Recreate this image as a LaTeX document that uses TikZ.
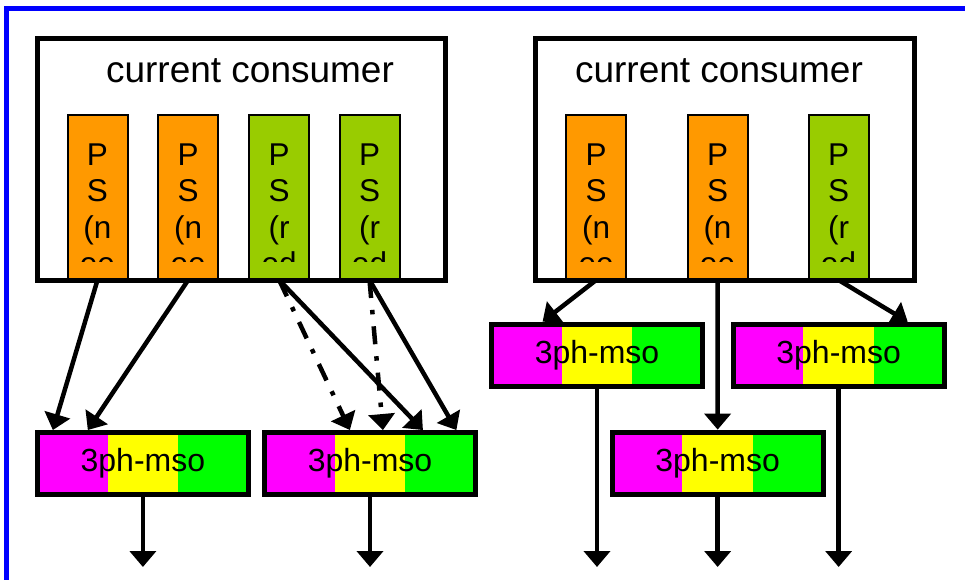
\documentclass[tikz,border=0pt]{standalone}
\usepackage{fontspec}
\setmainfont{Liberation Sans}
\usetikzlibrary{arrows.meta,calc}
\definecolor{psorange}{HTML}{FF9900}
\definecolor{psgreen}{HTML}{99CC00}
\definecolor{msomag}{HTML}{FF00FF}
\definecolor{msoyel}{HTML}{FFFF00}
\definecolor{msogrn}{HTML}{00FF00}
\definecolor{framblue}{HTML}{0000FF}
\tikzset{
  consumer/.style={draw, line width=5pt, fill=white, rectangle, inner sep=0pt},
  titletext/.style={anchor=base, inner sep=0pt, font=\fontsize{37}{44}\selectfont},
  psbox/.style={draw, line width=2pt, rectangle, inner sep=0pt, minimum width=60pt, minimum height=164pt},
  pstext/.style={anchor=base, inner sep=0pt, font=\fontsize{31.5}{36}\selectfont},
  msobox/.style={draw, line width=5pt, rectangle, inner sep=0pt,
    minimum width=211pt, minimum height=62.3pt,
    font=\fontsize{32}{38}\selectfont,
    path picture={
      \fill[msomag] (path picture bounding box.south west) rectangle
        ($(path picture bounding box.north west)!1/3!(path picture bounding box.north east)$);
      \fill[msoyel] ($(path picture bounding box.south west)!1/3!(path picture bounding box.south east)$) rectangle
        ($(path picture bounding box.north west)!2/3!(path picture bounding box.north east)$);
      \fill[msogrn] ($(path picture bounding box.south west)!2/3!(path picture bounding box.south east)$) rectangle
        (path picture bounding box.north east);
    }},
  conn/.style={line width=4.5pt, -{Triangle[width=26pt,length=16pt]}},
  dashdotconn/.style={conn, dash pattern=on 18pt off 12pt on 4.5pt off 12pt}
}
\newcommand{\pslabel}[4]{%
  \begin{scope}
    \clip (#2-29,116) rectangle (#2+29,261);
    \node[pstext] (#1-a) at (#2,165) {P};
    \node[pstext] (#1-b) at (#2,201.5) {S};
    \node[pstext] (#1-c) at (#2,238) {#3};
    \node[pstext] (#1-d) at (#2,274.5) {#4};
  \end{scope}}
\begin{document}
\begin{tikzpicture}[x=1pt,y=-1pt]
\fill[white] (0,0) rectangle (965,580);
\useasboundingbox (0,0) rectangle (965,580);
\draw[framblue, line width=5pt] (6.5,620) -- (6.5,8.5) -- (1000,8.5);

% consumers
\node[consumer, minimum width=407.5pt, minimum height=241.5pt] (cc1) at (241.25,159.75) {};
\node[titletext] (t1) at (250,83) {current consumer};
\node[consumer, minimum width=378.3pt, minimum height=241.5pt] (cc2) at (724.85,159.75) {};
\node[titletext] (t2) at (719,83) {current consumer};

% PS boxes left
\node[psbox, fill=psorange] (ps1) at (97.5,197) {};
\node[psbox, fill=psorange] (ps2) at (188.2,197) {};
\node[psbox, fill=psgreen] (ps3) at (279.2,197) {};
\node[psbox, fill=psgreen] (ps4) at (369.5,197) {};
\pslabel{ps1t}{97.5}{(n}{ee}
\pslabel{ps2t}{188.2}{(n}{ee}
\pslabel{ps3t}{279.2}{(r}{ed}
\pslabel{ps4t}{369.5}{(r}{ed}
% PS boxes right
\node[psbox, fill=psorange] (psr1) at (596.2,197) {};
\node[psbox, fill=psorange] (psr2) at (717.5,197) {};
\node[psbox, fill=psgreen] (psr3) at (838.5,197) {};
\pslabel{psr1t}{596.2}{(n}{ee}
\pslabel{psr2t}{717.5}{(n}{ee}
\pslabel{psr3t}{838.5}{(r}{ed}

% mso boxes
\node[msobox] (msoA) at (142.9,463.7) {3ph-mso};
\node[msobox] (msoB) at (370,463.7) {3ph-mso};
\node[msobox] (msoR1) at (597,355.35) {3ph-mso};
\node[msobox] (msoR2) at (838.65,355.35) {3ph-mso};
\node[msobox] (msoR3) at (717.65,463.3) {3ph-mso};

% connectors left
\draw[conn] (ps1.south) -- ($(msoA.north west)!0.083!(msoA.north east)$);
\draw[conn] (ps2.south) -- ($(msoA.north west)!0.245!(msoA.north east)$);
\draw[dashdotconn] (ps3.south) -- ($(msoB.north west)!0.407!(msoB.north east)$);
\draw[conn] (ps3.south) -- ($(msoB.north west)!0.745!(msoB.north east)$);
\draw[dashdotconn] (ps4.south) -- ($(msoB.north west)!0.56!(msoB.north east)$);
\draw[conn] (ps4.south) -- ($(msoB.north west)!0.90!(msoB.north east)$);
% connectors right
\draw[conn] (psr1.south) -- ($(msoR1.north west)!0.248!(msoR1.north east)$);
\draw[conn] (psr2.south) -- (msoR3.north);
\draw[conn] (psr3.south) -- ($(msoR2.north west)!0.82!(msoR2.north east)$);

% outputs
\coordinate (oA) at (142.9,567);
\coordinate (oB) at (370,567);
\coordinate (oR1) at (597,567);
\coordinate (oR3) at (717.65,567);
\coordinate (oR2) at (838.65,567);
\draw[conn] (msoA.south) -- (oA);
\draw[conn] (msoB.south) -- (oB);
\draw[conn] (msoR1.south) -- (oR1);
\draw[conn] (msoR3.south) -- (oR3);
\draw[conn] (msoR2.south) -- (oR2);
\end{tikzpicture}
\end{document}
